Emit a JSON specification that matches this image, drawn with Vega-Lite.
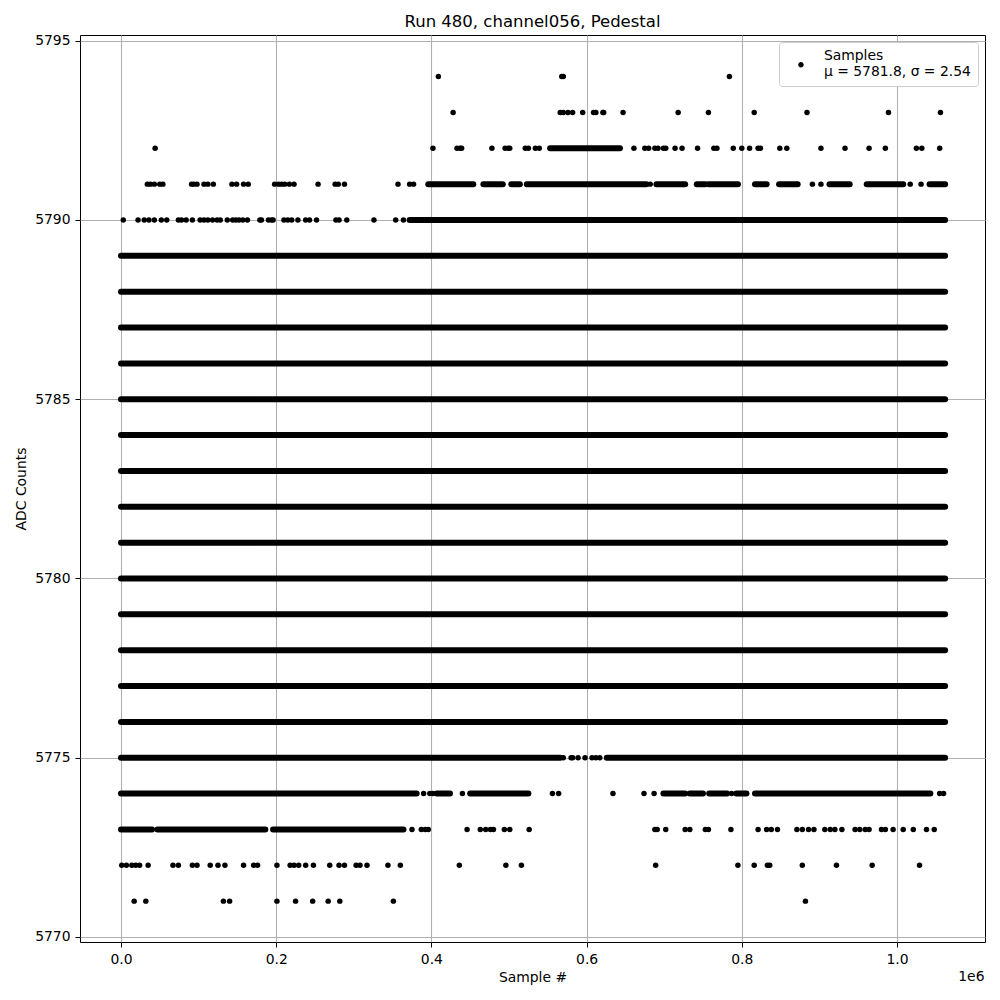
{
  "$schema": "https://vega.github.io/schema/vega-lite/v6.json",
  "width": 905,
  "height": 907,
  "autosize": "none",
  "padding": {"left": 80, "top": 35, "right": 15, "bottom": 58},
  "background": "white",
  "title": {"text": "Run 480, channel056, Pedestal", "fontSize": 16.5, "font": "DejaVu Sans", "fontWeight": "normal", "offset": 3, "color": "black"},
  "config": {
    "font": "DejaVu Sans",
    "view": {"stroke": "black", "strokeWidth": 1},
    "axis": {"labelFontSize": 13.9, "titleFontSize": 13.9, "labelColor": "black", "titleColor": "black", "titleFontWeight": "normal", "tickColor": "black", "tickSize": 5, "labelPadding": 5, "domain": false, "gridColor": "#b0b0b0", "gridWidth": 1.1, "labelFont": "DejaVu Sans", "titleFont": "DejaVu Sans"},
    "legend": {"orient": "top-right", "offset": 7, "fillColor": "white", "strokeColor": "#cccccc", "cornerRadius": 3, "padding": 7, "labelFontSize": 13.9, "labelFont": "DejaVu Sans", "labelColor": "black", "symbolSize": 30, "symbolType": "M -1 3.2 A 1 1 0 1 0 1 3.2 A 1 1 0 1 0 -1 3.2 Z", "symbolFillColor": "black", "symbolStrokeWidth": 0, "symbolOffset": 8, "labelOffset": 16}
  },
  "datasets": {
    "bands": [
      {"y": 5776, "x0": 0, "x1": 1.062}, {"y": 5777, "x0": 0, "x1": 1.062}, {"y": 5778, "x0": 0, "x1": 1.062},
      {"y": 5779, "x0": 0, "x1": 1.062}, {"y": 5780, "x0": 0, "x1": 1.062}, {"y": 5781, "x0": 0, "x1": 1.062},
      {"y": 5782, "x0": 0, "x1": 1.062}, {"y": 5783, "x0": 0, "x1": 1.062}, {"y": 5784, "x0": 0, "x1": 1.062},
      {"y": 5785, "x0": 0, "x1": 1.062}, {"y": 5786, "x0": 0, "x1": 1.062}, {"y": 5787, "x0": 0, "x1": 1.062},
      {"y": 5788, "x0": 0, "x1": 1.062}, {"y": 5789, "x0": 0, "x1": 1.062},
      {"y": 5790, "x0": 0.372, "x1": 1.062},
      {"y": 5791, "x0": 0.396, "x1": 0.454}, {"y": 5791, "x0": 0.467, "x1": 0.492}, {"y": 5791, "x0": 0.503, "x1": 0.514},
      {"y": 5791, "x0": 0.523, "x1": 0.677}, {"y": 5791, "x0": 0.690, "x1": 0.727}, {"y": 5791, "x0": 0.742, "x1": 0.753},
      {"y": 5791, "x0": 0.757, "x1": 0.795}, {"y": 5791, "x0": 0.817, "x1": 0.832}, {"y": 5791, "x0": 0.848, "x1": 0.872},
      {"y": 5791, "x0": 0.913, "x1": 0.939}, {"y": 5791, "x0": 0.961, "x1": 1.008}, {"y": 5791, "x0": 1.042, "x1": 1.062},
      {"y": 5792, "x0": 0.553, "x1": 0.643},
      {"y": 5775, "x0": 0, "x1": 0.566}, {"y": 5775, "x0": 0.626, "x1": 1.062},
      {"y": 5774, "x0": 0, "x1": 0.381}, {"y": 5774, "x0": 0.407, "x1": 0.424}, {"y": 5774, "x0": 0.450, "x1": 0.525},
      {"y": 5774, "x0": 0.699, "x1": 0.727}, {"y": 5774, "x0": 0.733, "x1": 0.750}, {"y": 5774, "x0": 0.758, "x1": 0.781},
      {"y": 5774, "x0": 0.793, "x1": 0.806}, {"y": 5774, "x0": 0.817, "x1": 1.043},
      {"y": 5773, "x0": 0, "x1": 0.040}, {"y": 5773, "x0": 0.047, "x1": 0.186}, {"y": 5773, "x0": 0.196, "x1": 0.364}
    ],
    "pts": [
      {"x": 0.409, "y": 5794}, {"x": 0.568, "y": 5794}, {"x": 0.570, "y": 5794}, {"x": 0.784, "y": 5794},
      {"x": 0.428, "y": 5793}, {"x": 0.566, "y": 5793}, {"x": 0.570, "y": 5793}, {"x": 0.576, "y": 5793}, {"x": 0.582, "y": 5793},
      {"x": 0.595, "y": 5793}, {"x": 0.609, "y": 5793}, {"x": 0.612, "y": 5793}, {"x": 0.621, "y": 5793}, {"x": 0.622, "y": 5793},
      {"x": 0.647, "y": 5793}, {"x": 0.718, "y": 5793}, {"x": 0.757, "y": 5793}, {"x": 0.816, "y": 5793}, {"x": 0.884, "y": 5793},
      {"x": 0.989, "y": 5793}, {"x": 1.056, "y": 5793},
      {"x": 0.044, "y": 5792}, {"x": 0.402, "y": 5792}, {"x": 0.433, "y": 5792}, {"x": 0.437, "y": 5792}, {"x": 0.439, "y": 5792},
      {"x": 0.478, "y": 5792}, {"x": 0.495, "y": 5792}, {"x": 0.499, "y": 5792}, {"x": 0.501, "y": 5792}, {"x": 0.521, "y": 5792},
      {"x": 0.525, "y": 5792}, {"x": 0.534, "y": 5792}, {"x": 0.539, "y": 5792}, {"x": 0.661, "y": 5792}, {"x": 0.675, "y": 5792},
      {"x": 0.680, "y": 5792}, {"x": 0.688, "y": 5792}, {"x": 0.692, "y": 5792}, {"x": 0.699, "y": 5792}, {"x": 0.702, "y": 5792},
      {"x": 0.714, "y": 5792}, {"x": 0.723, "y": 5792}, {"x": 0.743, "y": 5792}, {"x": 0.764, "y": 5792}, {"x": 0.768, "y": 5792},
      {"x": 0.789, "y": 5792}, {"x": 0.800, "y": 5792}, {"x": 0.810, "y": 5792}, {"x": 0.821, "y": 5792}, {"x": 0.824, "y": 5792},
      {"x": 0.849, "y": 5792}, {"x": 0.858, "y": 5792}, {"x": 0.902, "y": 5792}, {"x": 0.933, "y": 5792}, {"x": 0.964, "y": 5792},
      {"x": 0.985, "y": 5792}, {"x": 1.025, "y": 5792}, {"x": 1.032, "y": 5792}, {"x": 1.055, "y": 5792},
      {"x": 0.034, "y": 5791}, {"x": 0.038, "y": 5791}, {"x": 0.043, "y": 5791}, {"x": 0.050, "y": 5791}, {"x": 0.054, "y": 5791},
      {"x": 0.091, "y": 5791}, {"x": 0.094, "y": 5791}, {"x": 0.098, "y": 5791}, {"x": 0.107, "y": 5791}, {"x": 0.112, "y": 5791},
      {"x": 0.119, "y": 5791}, {"x": 0.143, "y": 5791}, {"x": 0.149, "y": 5791}, {"x": 0.158, "y": 5791}, {"x": 0.164, "y": 5791},
      {"x": 0.198, "y": 5791}, {"x": 0.203, "y": 5791}, {"x": 0.207, "y": 5791}, {"x": 0.211, "y": 5791}, {"x": 0.217, "y": 5791},
      {"x": 0.223, "y": 5791}, {"x": 0.254, "y": 5791}, {"x": 0.276, "y": 5791}, {"x": 0.280, "y": 5791}, {"x": 0.288, "y": 5791},
      {"x": 0.357, "y": 5791}, {"x": 0.372, "y": 5791}, {"x": 0.377, "y": 5791}, {"x": 0.682, "y": 5791}, {"x": 0.891, "y": 5791},
      {"x": 0.902, "y": 5791}, {"x": 1.017, "y": 5791}, {"x": 1.031, "y": 5791},
      {"x": 0.003, "y": 5790}, {"x": 0.022, "y": 5790}, {"x": 0.030, "y": 5790}, {"x": 0.036, "y": 5790}, {"x": 0.043, "y": 5790},
      {"x": 0.052, "y": 5790}, {"x": 0.059, "y": 5790}, {"x": 0.074, "y": 5790}, {"x": 0.078, "y": 5790}, {"x": 0.084, "y": 5790},
      {"x": 0.092, "y": 5790}, {"x": 0.102, "y": 5790}, {"x": 0.107, "y": 5790}, {"x": 0.112, "y": 5790}, {"x": 0.118, "y": 5790},
      {"x": 0.124, "y": 5790}, {"x": 0.128, "y": 5790}, {"x": 0.137, "y": 5790}, {"x": 0.144, "y": 5790}, {"x": 0.148, "y": 5790},
      {"x": 0.152, "y": 5790}, {"x": 0.157, "y": 5790}, {"x": 0.163, "y": 5790}, {"x": 0.179, "y": 5790}, {"x": 0.181, "y": 5790},
      {"x": 0.190, "y": 5790}, {"x": 0.194, "y": 5790}, {"x": 0.196, "y": 5790}, {"x": 0.210, "y": 5790}, {"x": 0.215, "y": 5790},
      {"x": 0.220, "y": 5790}, {"x": 0.228, "y": 5790}, {"x": 0.238, "y": 5790}, {"x": 0.243, "y": 5790}, {"x": 0.252, "y": 5790},
      {"x": 0.277, "y": 5790}, {"x": 0.281, "y": 5790}, {"x": 0.291, "y": 5790}, {"x": 0.326, "y": 5790}, {"x": 0.354, "y": 5790},
      {"x": 0.364, "y": 5790},
      {"x": 0.570, "y": 5775}, {"x": 0.580, "y": 5775}, {"x": 0.582, "y": 5775}, {"x": 0.589, "y": 5775}, {"x": 0.598, "y": 5775},
      {"x": 0.607, "y": 5775}, {"x": 0.612, "y": 5775}, {"x": 0.617, "y": 5775},
      {"x": 0.390, "y": 5774}, {"x": 0.398, "y": 5774}, {"x": 0.402, "y": 5774}, {"x": 0.440, "y": 5774}, {"x": 0.556, "y": 5774},
      {"x": 0.564, "y": 5774}, {"x": 0.634, "y": 5774}, {"x": 0.674, "y": 5774}, {"x": 0.687, "y": 5774}, {"x": 0.787, "y": 5774},
      {"x": 1.055, "y": 5774}, {"x": 1.060, "y": 5774},
      {"x": 0.375, "y": 5773}, {"x": 0.387, "y": 5773}, {"x": 0.392, "y": 5773}, {"x": 0.396, "y": 5773}, {"x": 0.446, "y": 5773},
      {"x": 0.463, "y": 5773}, {"x": 0.470, "y": 5773}, {"x": 0.476, "y": 5773}, {"x": 0.480, "y": 5773}, {"x": 0.494, "y": 5773},
      {"x": 0.501, "y": 5773}, {"x": 0.526, "y": 5773}, {"x": 0.688, "y": 5773}, {"x": 0.691, "y": 5773}, {"x": 0.702, "y": 5773},
      {"x": 0.727, "y": 5773}, {"x": 0.733, "y": 5773}, {"x": 0.753, "y": 5773}, {"x": 0.757, "y": 5773}, {"x": 0.786, "y": 5773},
      {"x": 0.821, "y": 5773}, {"x": 0.832, "y": 5773}, {"x": 0.838, "y": 5773}, {"x": 0.846, "y": 5773}, {"x": 0.871, "y": 5773},
      {"x": 0.878, "y": 5773}, {"x": 0.886, "y": 5773}, {"x": 0.893, "y": 5773}, {"x": 0.907, "y": 5773}, {"x": 0.914, "y": 5773},
      {"x": 0.920, "y": 5773}, {"x": 0.929, "y": 5773}, {"x": 0.946, "y": 5773}, {"x": 0.952, "y": 5773}, {"x": 0.959, "y": 5773},
      {"x": 0.964, "y": 5773}, {"x": 0.980, "y": 5773}, {"x": 0.985, "y": 5773}, {"x": 0.995, "y": 5773}, {"x": 1.008, "y": 5773},
      {"x": 1.021, "y": 5773}, {"x": 1.038, "y": 5773}, {"x": 1.048, "y": 5773},
      {"x": 0.001, "y": 5772}, {"x": 0.007, "y": 5772}, {"x": 0.014, "y": 5772}, {"x": 0.019, "y": 5772}, {"x": 0.024, "y": 5772},
      {"x": 0.035, "y": 5772}, {"x": 0.067, "y": 5772}, {"x": 0.074, "y": 5772}, {"x": 0.092, "y": 5772}, {"x": 0.098, "y": 5772},
      {"x": 0.115, "y": 5772}, {"x": 0.125, "y": 5772}, {"x": 0.134, "y": 5772}, {"x": 0.158, "y": 5772}, {"x": 0.171, "y": 5772},
      {"x": 0.176, "y": 5772}, {"x": 0.201, "y": 5772}, {"x": 0.218, "y": 5772}, {"x": 0.223, "y": 5772}, {"x": 0.229, "y": 5772},
      {"x": 0.238, "y": 5772}, {"x": 0.248, "y": 5772}, {"x": 0.269, "y": 5772}, {"x": 0.281, "y": 5772}, {"x": 0.288, "y": 5772},
      {"x": 0.303, "y": 5772}, {"x": 0.308, "y": 5772}, {"x": 0.317, "y": 5772}, {"x": 0.344, "y": 5772}, {"x": 0.360, "y": 5772},
      {"x": 0.436, "y": 5772}, {"x": 0.496, "y": 5772}, {"x": 0.516, "y": 5772}, {"x": 0.689, "y": 5772}, {"x": 0.795, "y": 5772},
      {"x": 0.816, "y": 5772}, {"x": 0.833, "y": 5772}, {"x": 0.836, "y": 5772}, {"x": 0.878, "y": 5772}, {"x": 0.922, "y": 5772},
      {"x": 0.968, "y": 5772}, {"x": 1.029, "y": 5772},
      {"x": 0.017, "y": 5771}, {"x": 0.032, "y": 5771}, {"x": 0.132, "y": 5771}, {"x": 0.140, "y": 5771}, {"x": 0.201, "y": 5771},
      {"x": 0.225, "y": 5771}, {"x": 0.247, "y": 5771}, {"x": 0.267, "y": 5771}, {"x": 0.282, "y": 5771}, {"x": 0.351, "y": 5771},
      {"x": 0.882, "y": 5771}
    ]
  },
  "layer": [
    {
      "data": {"name": "bands"},
      "mark": {"type": "rule", "strokeWidth": 6, "strokeCap": "round", "color": "black"},
      "encoding": {
        "x": {"field": "x0", "type": "quantitative", "scale": {"domain": [-0.0528, 1.1134], "nice": false, "zero": false},
              "axis": {"title": "Sample #", "values": [0, 0.2, 0.4, 0.6, 0.8, 1.0], "format": ".1f", "grid": true, "titlePadding": 5}},
        "x2": {"field": "x1"},
        "y": {"field": "y", "type": "quantitative", "scale": {"domain": [5769.86, 5795.16], "nice": false, "zero": false},
              "axis": {"title": "ADC Counts", "values": [5770, 5775, 5780, 5785, 5790, 5795], "format": "d", "grid": true, "titlePadding": 6}}
      }
    },
    {
      "data": {"name": "pts"},
      "mark": {"type": "point", "filled": true, "size": 30, "opacity": 1},
      "encoding": {
        "x": {"field": "x", "type": "quantitative", "scale": {"domain": [-0.0528, 1.1134], "nice": false, "zero": false},
              "axis": {"orient": "bottom", "title": "1e6", "labels": false, "ticks": false, "grid": false, "domain": false,
                       "titleAnchor": "end", "titleAlign": "right", "titleX": 904, "titleY": 34, "titleBaseline": "middle"}},
        "y": {"field": "y", "type": "quantitative"},
        "color": {"datum": "Samples", "type": "nominal", "scale": {"range": ["black"]},
                  "legend": {"title": null, "labelExpr": "['Samples', 'μ = 5781.8, σ = 2.54']"}}
      }
    }
  ],
  "resolve": {"scale": {"x": "independent"}, "axis": {"x": "independent"}}
}
